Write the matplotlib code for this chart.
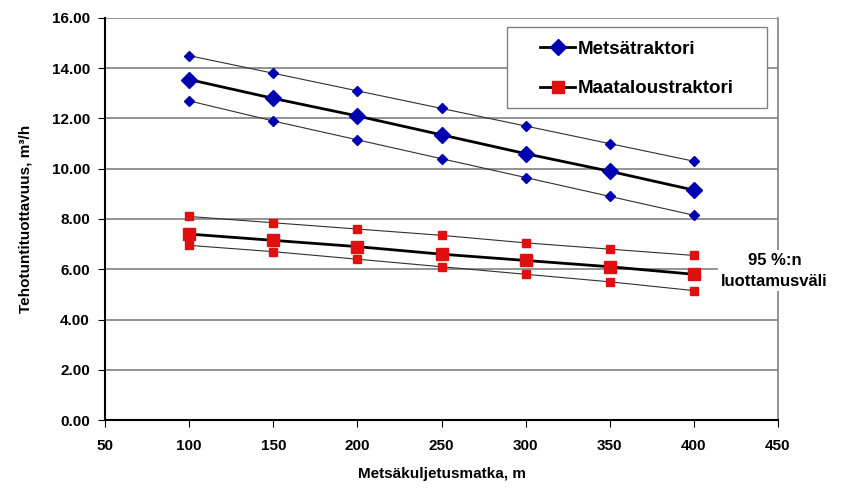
import matplotlib
matplotlib.use("Agg")
import matplotlib.pyplot as plt
from matplotlib.patches import Rectangle

plt.rcParams['font.family'] = ['Liberation Sans', 'DejaVu Sans']
plt.rcParams['font.weight'] = 'bold'

matka = [100, 150, 200, 250, 300, 350, 400]

metsa = [13.55, 12.8, 12.1, 11.35, 10.6, 9.9, 9.15]
metsa_yla = [14.5, 13.8, 13.1, 12.4, 11.7, 11.0, 10.3]
metsa_ala = [12.7, 11.9, 11.15, 10.4, 9.65, 8.9, 8.15]

maatalous = [7.4, 7.15, 6.9, 6.6, 6.35, 6.1, 5.8]
maatalous_yla = [8.1, 7.85, 7.6, 7.35, 7.05, 6.8, 6.55]
maatalous_ala = [6.95, 6.7, 6.4, 6.1, 5.8, 5.5, 5.15]

x_ticks = [50, 100, 150, 200, 250, 300, 350, 400, 450]
y_ticks = [0, 2, 4, 6, 8, 10, 12, 14, 16]

blue = '#0000b0'
red = '#e01010'

fig = plt.figure(figsize=(8.41, 4.98), dpi=100)
ax = fig.add_axes([0.125, 0.1566, 0.800, 0.8073])

for y in y_ticks[1:]:
    ax.axhline(y, color='#808080', lw=1.2, zorder=1)

# confidence bounds (thin)
ax.plot(matka, metsa_yla, color='#303030', lw=0.8, marker='D', ms=5, mfc=blue, mec=blue, zorder=3)
ax.plot(matka, metsa_ala, color='#303030', lw=0.8, marker='D', ms=5, mfc=blue, mec=blue, zorder=3)
ax.plot(matka, maatalous_yla, color='#303030', lw=0.8, marker='s', ms=6, mfc=red, mec=red, zorder=3)
ax.plot(matka, maatalous_ala, color='#303030', lw=0.8, marker='s', ms=6, mfc=red, mec=red, zorder=3)

# means
ax.plot(matka, metsa, color='black', lw=2, marker='D', ms=8, mfc=blue, mec=blue, zorder=4,
        label='Metsätraktori')
ax.plot(matka, maatalous, color='black', lw=2, marker='s', ms=8, mfc=red, mec=red, zorder=4,
        label='Maataloustraktori')

ax.set_xlim(50, 450)
ax.set_ylim(0, 16)
ax.set_xticks(x_ticks)
ax.set_yticks(y_ticks)
ax.set_yticklabels(['%.2f' % v for v in y_ticks])
ax.tick_params(labelsize=11, direction='out', length=5, color='black')
ax.tick_params(axis='x', pad=9)
ax.tick_params(axis='y', pad=6)
for lab in ax.get_xticklabels() + ax.get_yticklabels():
    lab.set_fontweight('bold')

ax.spines['top'].set_visible(False)
ax.spines['left'].set_linewidth(1.5)
ax.spines['bottom'].set_linewidth(1.5)
ax.spines['right'].set_color('#808080')
ax.spines['right'].set_linewidth(1.2)

ax.set_xlabel('Metsäkuljetusmatka, m', fontsize=11, fontweight='bold', labelpad=10)
ax.set_ylabel('Tehotuntituottavuus, m³/h', fontsize=11, fontweight='bold', labelpad=14)

# legend frame drawn separately so it can be wider than the entries
ax.add_patch(Rectangle((0.597, 0.776), 0.387, 0.202, transform=ax.transAxes,
                       facecolor='white', edgecolor='#808080', lw=1.0, zorder=5))
leg = ax.legend(loc='upper left', bbox_to_anchor=(0.646, 0.944), borderaxespad=0,
                fontsize=13.5, frameon=False, handlelength=1.9, borderpad=0,
                labelspacing=1.2, handletextpad=0.15)
leg.set_zorder(6)
for t in leg.get_texts():
    t.set_fontweight('bold')

ax.text(0.995, 5.95, '95 %:n\nluottamusväli', transform=ax.get_yaxis_transform(),
        ha='center', va='center', fontsize=12, fontweight='bold', linespacing=1.5,
        bbox=dict(facecolor='white', edgecolor='none', pad=2), zorder=6, clip_on=False)

fig.savefig('out.png', dpi=100)
